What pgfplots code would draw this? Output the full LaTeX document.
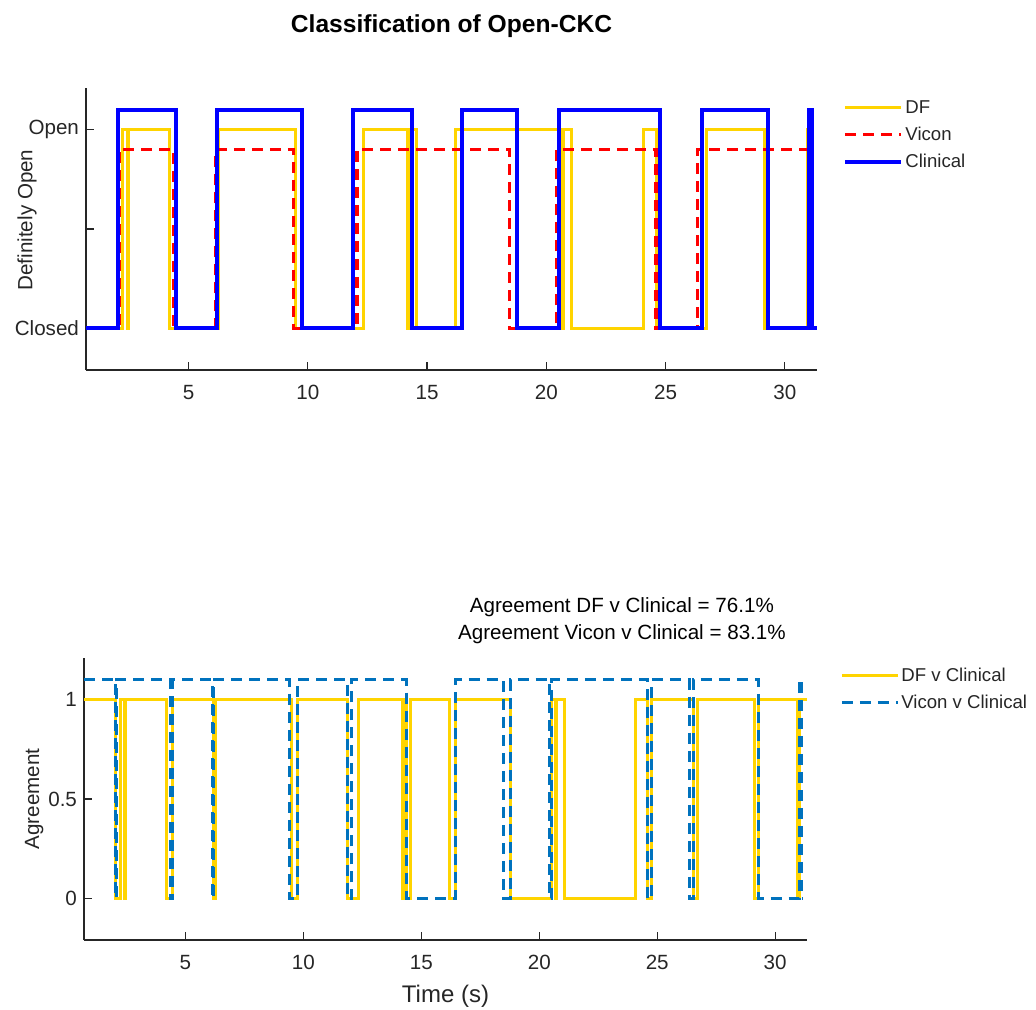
\documentclass[border=0pt]{standalone}
\usepackage{pgfplots}
\pgfplotsset{compat=1.18}
\usepackage{fontspec}
\setmainfont{Liberation Sans}
\definecolor{axgray}{gray}{0.15}
\definecolor{dfyellow}{RGB}{255,212,0}
\definecolor{mlblue}{RGB}{0,114,189}
\pgfplotsset{
 every axis title shift=0pt,
 common/.style={
  scale only axis,
  xmin=0.7, xmax=31.35, ymin=-0.21, ymax=1.21,
  axis x line*=bottom, axis y line*=left,
  axis line style={draw=axgray, line width=0.6pt, -},
  tick align=inside,
  major tick length=4pt,
  tick style={draw=axgray, line width=0.6pt},
  xtick={5,10,15,20,25,30}, xticklabels={5,10,15,20,25,30},
  font=\fontsize{10.3}{12.4}\selectfont,
  tick label style={font=\fontsize{10.3}{12.4}\selectfont, text=axgray},
  xticklabel style={yshift=-4pt},
  label style={font=\fontsize{10.3}{12.4}\selectfont, text=axgray},
  legend cell align=left,
  legend image code/.code={\draw[##1] (0pt,0pt) -- (28pt,0pt);},
  legend style={draw=none, fill=none, inner sep=0pt, row sep=2pt, column sep=0pt,
    anchor=north west, font=\fontsize{9.3}{11}\selectfont, text=axgray,
    nodes={inner sep=1pt, text height=7.5pt, text depth=2pt}},
 }
}
\begin{document}
\begin{tikzpicture}
\path[use as bounding box] (0,0) rectangle (518pt,504.5pt);
% ---------- top axis ----------
\begin{axis}[common, at={(43pt,319.5pt)}, anchor=south west, width=365.5pt, height=141pt,
 ytick={0,0.5,1}, yticklabels={Closed,,Open},
 ylabel={Definitely Open},
 ylabel style={at={(axis description cs:-0.0735,0.532)}, anchor=base},
 title={Classification of Open-CKC},
 title style={at={(axis description cs:0.5,1)}, anchor=base, yshift=27.5pt,
   font=\fontsize{12.3}{14}\selectfont\bfseries, text=black},
 legend style={at={(axis description cs:1.0356,0.973)}},
]
\addplot[const plot, color=dfyellow, line width=1.5pt] coordinates {
 (0.7,0) (2.25,1) (2.42,0) (2.48,1) (4.2,0) (6.27,1) (9.48,0) (12.33,1)
 (14.2,0) (14.3,1) (14.55,0) (16.2,1) (20.68,0) (20.74,1) (21.05,0) (24.08,1)
 (24.6,0) (26.7,1) (29.14,0) (30.95,1) (31.1,0) (31.35,0)};
\addlegendentry{DF}
\addplot[const plot, color=red, line width=1.6pt, dash pattern=on 5.5pt off 3.5pt] coordinates {
 (0.7,0) (2.08,0.9) (4.38,0) (6.13,0.9) (9.41,0) (12.06,0.9) (18.47,0)
 (20.43,0.9) (24.6,0) (26.35,0.9) (31.35,0.9)};
\addlegendentry{Vicon}
\addplot[const plot, color=blue, line width=2pt] coordinates {
 (0.7,0) (2.03,1.1) (4.47,0) (6.18,1.1) (9.74,0) (11.88,1.1) (14.38,0)
 (16.45,1.1) (18.78,0) (20.53,1.1) (24.77,0) (26.52,1.1) (29.31,0)
 (31.02,1.1) (31.12,0) (31.35,0)};
\addlegendentry{Clinical}
\end{axis}
% ---------- bottom axis ----------
\begin{axis}[common, at={(42pt,34.5pt)}, anchor=south west, width=361.5pt, height=141pt,
 ytick={0,0.5,1}, yticklabels={0,0.5,1},
 ylabel={Agreement},
 ylabel style={at={(axis description cs:-0.0622,0.5)}, anchor=base},
 xlabel={Time (s)},
 xlabel style={at={(axis description cs:0.5,0)}, anchor=base, yshift=-31pt,
   font=\fontsize{12}{14}\selectfont},
 title={Agreement DF v Clinical = 76.1\%\\Agreement Vicon v Clinical = 83.1\%},
 title style={at={(axis description cs:0.744,1)}, anchor=south, align=center, yshift=3.5pt,
   font=\fontsize{10.3}{13.5}\selectfont, text=black},
 legend style={at={(axis description cs:1.0456,0.98)}},
]
\addplot[const plot, color=dfyellow, line width=1.5pt] coordinates {
 (0.7,1) (2.03,0) (2.25,1) (2.42,0) (2.48,1) (4.2,0) (4.47,1) (6.18,0) (6.27,1)
 (9.48,0) (9.74,1) (11.88,0) (12.33,1) (14.2,0) (14.3,1) (14.38,0) (14.55,1)
 (16.2,0) (16.45,1) (18.78,0) (20.53,1) (20.68,0) (20.74,1) (21.05,0) (24.08,1)
 (24.6,0) (24.77,1) (26.52,0) (26.7,1) (29.14,0) (29.31,1) (30.95,0) (31.02,1)
 (31.1,1) (31.35,1)};
\addlegendentry{DF v Clinical}
\addplot[const plot, color=mlblue, line width=1.5pt, dash pattern=on 5.5pt off 3.5pt] coordinates {
 (0.7,1.1) (2.03,0) (2.08,1.1) (4.38,0) (4.47,1.1) (6.13,0) (6.18,1.1) (9.41,0)
 (9.74,1.1) (11.88,0) (12.06,1.1) (14.38,0) (16.45,1.1) (18.47,0) (18.78,1.1)
 (20.43,0) (20.53,1.1) (24.6,0) (24.77,1.1) (26.35,0) (26.52,1.1) (29.31,0)
 (31.02,1.1) (31.12,0) (31.2,0)};
\addlegendentry{Vicon v Clinical}
\end{axis}
\end{tikzpicture}
\end{document}
